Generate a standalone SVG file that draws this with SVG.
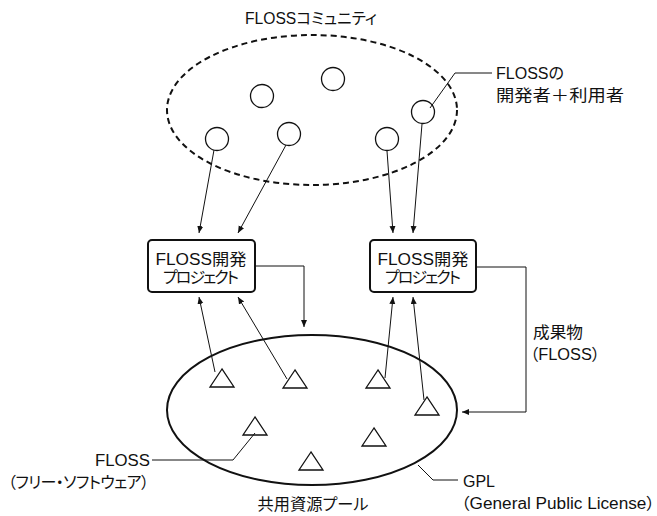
<svg xmlns="http://www.w3.org/2000/svg" width="657" height="516" viewBox="0 0 657 516">
<style>
text{font-family:"Liberation Sans","Noto Sans CJK JP",sans-serif;font-size:16px;fill:#111;font-feature-settings:"palt"}
.c{text-anchor:middle}
.e{text-anchor:end}
.ln{fill:none;stroke:#111;stroke-width:1}
.ar{fill:none;stroke:#111;stroke-width:1;marker-end:url(#ah)}
.mem{fill:#fff;stroke:#111;stroke-width:1.3}
.tri{fill:#fff;stroke:#111;stroke-width:1.3}
.box{fill:#fff;stroke:#111;stroke-width:2}
</style>
<defs>
<marker id="ah" markerUnits="userSpaceOnUse" markerWidth="8" markerHeight="8" refX="7" refY="3" orient="auto">
<path d="M0,0 L7,3 L0,6 Z" fill="#111"/>
</marker>
</defs>
<g id="community">
<ellipse cx="312" cy="110" rx="145" ry="75" fill="none" stroke="#111" stroke-width="2" stroke-dasharray="6,4"/>
<text class="c" x="311" y="24" textLength="132" lengthAdjust="spacingAndGlyphs">FLOSSコミュニティ</text>
</g>
<g id="members">
<circle class="mem" cx="333" cy="79" r="11.5"/>
<circle class="mem" cx="262" cy="96" r="11.5"/>
<circle class="mem" cx="217" cy="139" r="11.5"/>
<circle class="mem" cx="289" cy="134" r="11.5"/>
<circle class="mem" cx="387" cy="139" r="11.5"/>
<circle class="mem" cx="423" cy="112" r="11.5"/>
</g>
<g id="pool">
<ellipse cx="312" cy="410" rx="145" ry="75" fill="none" stroke="#111" stroke-width="2"/>
<text class="c" x="313" y="510" textLength="111" lengthAdjust="spacingAndGlyphs">共用資源プール</text>
</g>
<g id="software">
<polygon class="tri" points="222,369 210,387 234,387"/>
<polygon class="tri" points="295,370 283,388 307,388"/>
<polygon class="tri" points="378,370 366,388 390,388"/>
<polygon class="tri" points="427,397 415,415 439,415"/>
<polygon class="tri" points="255,417 243,435 267,435"/>
<polygon class="tri" points="374,428 362,446 386,446"/>
<polygon class="tri" points="311,452 299,470 323,470"/>
</g>
<g id="project1">
<rect class="box" x="148" y="240" width="107" height="52" rx="4"/>
<text class="c" x="201" y="265" textLength="91" lengthAdjust="spacingAndGlyphs">FLOSS開発</text>
<text class="c" x="201" y="283" textLength="76" lengthAdjust="spacing">プロジェクト</text>
</g>
<g id="project2">
<rect class="box" x="370" y="240" width="106" height="52" rx="4"/>
<text class="c" x="423" y="265" textLength="91" lengthAdjust="spacingAndGlyphs">FLOSS開発</text>
<text class="c" x="423" y="283" textLength="76" lengthAdjust="spacing">プロジェクト</text>
</g>
<g id="connectors">
<line class="ar" x1="214" y1="150" x2="199" y2="233"/>
<line class="ar" x1="286" y1="145" x2="238" y2="233"/>
<line class="ar" x1="387" y1="151" x2="393" y2="233"/>
<line class="ar" x1="422" y1="124" x2="413" y2="233"/>
<line class="ar" x1="215" y1="372" x2="199" y2="297"/>
<line class="ar" x1="287" y1="379" x2="238" y2="297"/>
<line class="ar" x1="385" y1="378" x2="393" y2="297"/>
<line class="ar" x1="424" y1="400" x2="413" y2="297"/>
<polyline class="ar" points="255,266 304,266 304,327"/>
<polyline class="ar" points="476,267 526,267 526,412 462,412"/>
<polyline class="ln" points="430,108 455,73 492,73"/>
<polyline class="ln" points="255,433 233,460 152,460"/>
<polyline class="ln" points="418,465 433,480 458,480"/>
</g>
<g id="labels">
<text x="496" y="79" textLength="68" lengthAdjust="spacingAndGlyphs">FLOSSの</text>
<text x="496" y="101" textLength="128" lengthAdjust="spacingAndGlyphs">開発者＋利用者</text>
<text x="533" y="338" textLength="50" lengthAdjust="spacingAndGlyphs">成果物</text>
<text x="530" y="360" textLength="70" lengthAdjust="spacingAndGlyphs">（FLOSS）</text>
<text class="e" x="150" y="466" textLength="55" lengthAdjust="spacingAndGlyphs">FLOSS</text>
<text class="e" x="149" y="488" textLength="141" lengthAdjust="spacing">（フリー・ソフトウェア）</text>
<text x="463" y="487" textLength="32" lengthAdjust="spacingAndGlyphs">GPL</text>
<text x="461" y="509" textLength="194" lengthAdjust="spacingAndGlyphs">（General Public License）</text>
</g>
</svg>
